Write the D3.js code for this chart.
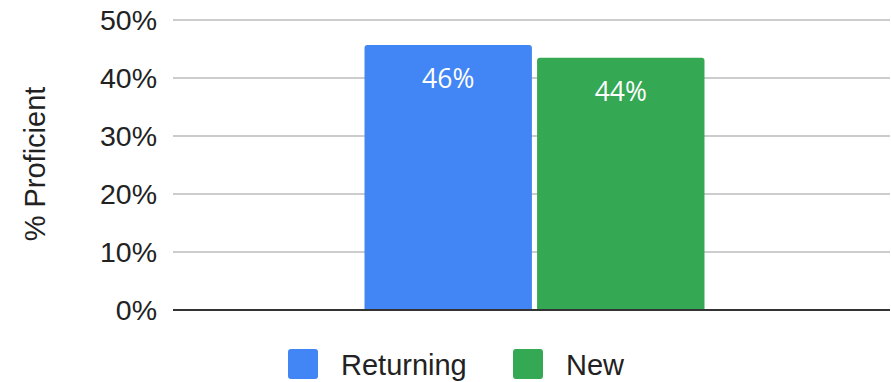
<!DOCTYPE html>
<html><head><meta charset="utf-8">
<script src="https://cdn.jsdelivr.net/npm/d3@7"></script>
<style>body{margin:0;background:#fff}svg{display:block}</style>
</head><body>
<svg id="c" width="891" height="382"></svg>
<script>
const categories = ["All"];
const seriesNames = ["Returning", "New"];
const seriesValues = [0.457, 0.435];
const seriesLabels = ["46%", "44%"];
const seriesColors = ["#4285F4", "#34A853"];
const yTicks = [0, 0.1, 0.2, 0.3, 0.4, 0.5];
const yTickLabels = ["0%", "10%", "20%", "30%", "40%", "50%"];
const yTitle = "% Proficient";

(function () {
const svg = d3.select("#c");
const pLeft = 173, pRight = 890, pTop = 20, pBottom = 310;
const font = "'Liberation Sans', Arial, sans-serif";

const y = d3.scaleLinear().domain([0, 0.5]).range([pBottom, pTop]);
const x0 = d3.scaleBand().domain(categories).range([179, pRight]).paddingInner(0).paddingOuter(0.5456);
const x1 = d3.scaleBand().domain(seriesNames).range([0, x0.bandwidth()]).paddingInner(0.03);

// gridlines
svg.append("g").selectAll("line").data(yTicks.filter(t => t > 0)).join("line")
  .attr("x1", pLeft).attr("x2", pRight)
  .attr("y1", d => y(d)).attr("y2", d => y(d))
  .attr("stroke", "#cccccc").attr("stroke-width", 2);

// tick labels
svg.append("g").selectAll("text").data(yTicks).join("text")
  .attr("x", 157).attr("y", d => y(d))
  .attr("text-anchor", "end").attr("dominant-baseline", "central")
  .attr("font-family", font).attr("font-size", 28.5).attr("fill", "#222")
  .text((d, i) => yTickLabels[i]);

// y title
svg.append("text")
  .attr("transform", `translate(35,${(pTop + pBottom) / 2 - 1}) rotate(-90)`)
  .attr("text-anchor", "middle").attr("dominant-baseline", "central")
  .attr("font-family", font).attr("font-size", 29).attr("fill", "#222")
  .text(yTitle);

// bars (rounded top corners)
const r = 3;
const data = seriesNames.map((s, i) => ({ s, v: seriesValues[i], label: seriesLabels[i], color: seriesColors[i] }));
const g = svg.append("g");
data.forEach(d => {
  const xa = x0(categories[0]) + x1(d.s), w = x1.bandwidth();
  const yt = y(d.v), yb = y(0);
  g.append("path")
    .attr("d", `M${xa},${yb}V${yt + r}Q${xa},${yt} ${xa + r},${yt}H${xa + w - r}Q${xa + w},${yt} ${xa + w},${yt + r}V${yb}Z`)
    .attr("fill", d.color);
  g.append("text")
    .attr("x", xa + w / 2).attr("y", yt + 43)
    .attr("text-anchor", "middle")
    .attr("font-family", "'Open Sans', sans-serif").attr("font-size", 26.5).attr("fill", "#fff")
    .text(d.label);
});

// baseline
svg.append("line").attr("x1", pLeft).attr("x2", pRight)
  .attr("y1", y(0)).attr("y2", y(0)).attr("stroke", "#333").attr("stroke-width", 2);

// legend
const legendX = [288, 513];
const lg = svg.append("g");
data.forEach((d, i) => {
  lg.append("rect").attr("x", legendX[i]).attr("y", 349).attr("width", 30).attr("height", 30)
    .attr("rx", 3).attr("fill", d.color);
  lg.append("text").attr("x", legendX[i] + 53).attr("y", 374.5)
    .attr("font-family", font).attr("font-size", 29).attr("fill", "#222")
    .text(d.s);
});
})();
</script>
</body></html>
